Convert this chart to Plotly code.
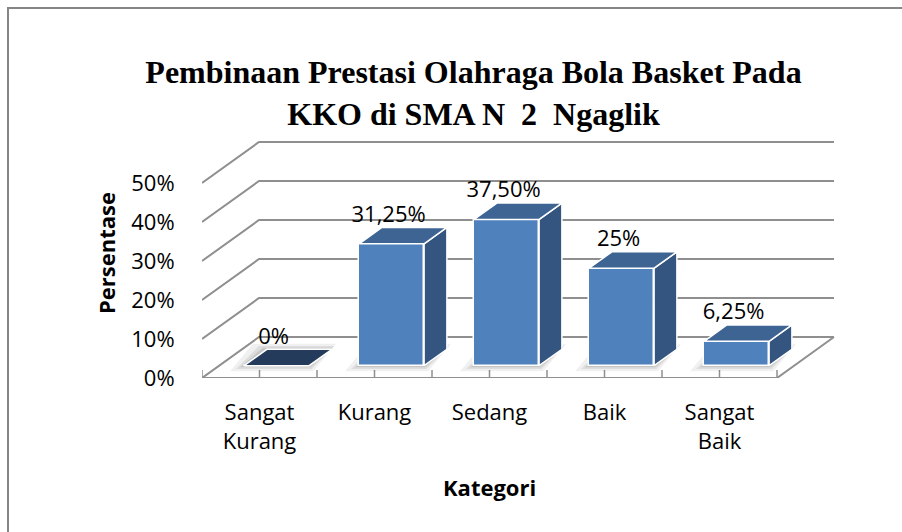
import plotly.graph_objects as go

# ---------------- data ----------------
categories = ["Sangat Kurang", "Kurang", "Sedang", "Baik", "Sangat Baik"]
tick_labels = ["Sangat<br>Kurang", "Kurang", "Sedang", "Baik", "Sangat<br>Baik"]
values = [0, 31.25, 37.5, 25, 6.25]
value_labels = ["0%", "31,25%", "37,50%", "25%", "6,25%"]
y_ticks = [0, 10, 20, 30, 40, 50]
y_tick_labels = ["0%", "10%", "20%", "30%", "40%", "50%"]

# ---------------- geometry (pixel-based oblique projection) ----------------
W, H = 902, 532
PL, PR, PT, PB = 202, 835, 128, 378
XPX = 115.0          # px per category
YPX = 3.9            # px per percent
DX = 57 / XPX        # full depth, x shift (data units)
DY = 41 / YPX        # full depth, y shift (data units)
BAR_W = 65 / XPX
F0, F1 = 0.3, 0.7    # bar depth position (fraction of floor depth)

n = len(categories)
pos = list(range(n))
x_range = [-0.5, -0.5 + (PR - PL) / XPX]
y_range = [0, (PB - PT) / YPX]

GRID = "#8f8f8f"
FRONT = "#4F81BD"
TOP = "#3E6494"
SIDE = "#34557F"
ZERO_TOP = "#243B5C"
FONT = "Open Sans, Noto Sans, sans-serif"


def px_to_paper_x(p):
    return (p - PL) / (PR - PL)


def px_to_paper_y(p):
    return (PB - p) / (PB - PT)


fig = go.Figure()

# ---- walls: gridlines (left wall diagonals + back wall) ----
xl0, xr0 = pos[0] - 0.5, pos[-1] + 0.5
for v in y_ticks:
    fig.add_trace(go.Scatter(
        x=[xl0, xl0 + DX, xr0 + DX], y=[v, v + DY, v + DY],
        mode="lines", line=dict(color=GRID, width=2),
        hoverinfo="skip", showlegend=False, zorder=0))

# ---- floor edges ----
fig.add_trace(go.Scatter(
    x=[xl0, xr0, xr0 + DX], y=[0, 0, DY], mode="lines",
    line=dict(color=GRID, width=2), hoverinfo="skip", showlegend=False, zorder=0))
tx, ty = [], []
for k in range(2 * n + 1):
    xv = xl0 + 0.5 * k
    tx += [xv, xv, None]
    ty += [0, 8 / YPX, None]
fig.add_trace(go.Scatter(
    x=tx, y=ty, mode="lines", line=dict(color=GRID, width=1.5),
    hoverinfo="skip", showlegend=False, zorder=0))

# ---- soft shadows on the floor ----
b0 = F0 * DY
ddx, ddy = (F1 - F0) * DX, (F1 - F0) * DY
for i, v in zip(pos, values):
    xc = i + F0 * DX
    xl, xr = xc - BAR_W / 2, xc + BAR_W / 2
    for grow, alpha in [(14, 0.06), (8, 0.08), (4, 0.10)]:
        gx = grow / XPX
        gy = grow / YPX * 0.4
        fig.add_trace(go.Scatter(
            x=[xl - gx, xr + gx * 0.3, xr + ddx + gx * 0.3, xl + ddx - gx, xl - gx],
            y=[b0 - gy, b0 - gy, b0 + ddy + gy, b0 + ddy + gy, b0 - gy],
            mode="lines", fill="toself", fillcolor=f"rgba(0,0,0,{alpha})",
            line=dict(width=0), hoverinfo="skip", showlegend=False, zorder=0))

# ---- bar front faces ----
fig.add_trace(go.Bar(
    x=[i + F0 * DX for i in pos], y=values, base=b0, width=BAR_W,
    marker=dict(color=FRONT, line=dict(color="white", width=1.5)),
    hovertext=categories, showlegend=False, zorder=1))

# ---- bar side & top faces ----
for i, v in zip(pos, values):
    xc = i + F0 * DX
    xl, xr = xc - BAR_W / 2, xc + BAR_W / 2
    if v > 0:
        fig.add_trace(go.Scatter(
            x=[xr, xr + ddx, xr + ddx, xr, xr],
            y=[b0, b0 + ddy, b0 + v + ddy, b0 + v, b0],
            mode="lines", fill="toself", fillcolor=SIDE,
            line=dict(color="white", width=1.5), hoverinfo="skip",
            showlegend=False, zorder=2))
    fig.add_trace(go.Scatter(
        x=[xl, xr, xr + ddx, xl + ddx, xl],
        y=[b0 + v, b0 + v, b0 + v + ddy, b0 + v + ddy, b0 + v],
        mode="lines", fill="toself", fillcolor=TOP if v > 0 else ZERO_TOP,
        line=dict(color="white", width=1.5), hoverinfo="skip",
        showlegend=False, zorder=2))

# ---- data labels ----
fig.add_trace(go.Scatter(
    x=[i + F0 * DX - 3 / XPX for i in pos],
    y=[b0 + v + 27.5 / YPX for v in values],
    mode="text", text=value_labels, textposition="middle center",
    textfont=dict(family=FONT, size=22, color="black"),
    hoverinfo="skip", showlegend=False, cliponaxis=False, zorder=3))

# ---- "Kategori" axis title centred on the category floor ----
fig.add_annotation(
    x=sum(pos) / n, y=px_to_paper_y(487), xref="x", yref="paper",
    text="<b>Kategori</b>", showarrow=False, yanchor="middle",
    font=dict(family=FONT, size=22, color="black"))

# ---- outer chart frame ----
fig.add_shape(type="line", xref="paper", yref="paper",
              x0=px_to_paper_x(8), x1=px_to_paper_x(912),
              y0=px_to_paper_y(8), y1=px_to_paper_y(8),
              line=dict(color="#868686", width=2), layer="above")
fig.add_shape(type="line", xref="paper", yref="paper",
              x0=px_to_paper_x(8), x1=px_to_paper_x(8),
              y0=px_to_paper_y(7), y1=px_to_paper_y(545),
              line=dict(color="#868686", width=2), layer="above")

fig.update_layout(
    width=W, height=H,
    margin=dict(l=PL, r=W - PR, t=PT, b=H - PB, pad=0),
    paper_bgcolor="white", plot_bgcolor="white",
    bargap=0,
    title=dict(
        text="<b>Pembinaan Prestasi Olahraga Bola Basket Pada<br>KKO di SMA N  2  Ngaglik</b>",
        x=473.5 / W, xanchor="center", xref="container",
        y=1 - 83 / H, yanchor="top", yref="container",
        font=dict(family="Liberation Serif, Times New Roman, serif", size=32, color="black")),
    xaxis=dict(
        range=x_range, tickmode="array", tickvals=pos, ticktext=tick_labels,
        showgrid=False, zeroline=False, showline=False,
        ticks="outside", ticklen=15, tickcolor="rgba(0,0,0,0)",
        tickfont=dict(family=FONT, size=22, color="black"), fixedrange=True),
    yaxis=dict(
        range=y_range, tickmode="array", tickvals=y_ticks, ticktext=y_tick_labels,
        showgrid=False, zeroline=False, showline=False,
        ticks="outside", ticklen=22, tickcolor="rgba(0,0,0,0)",
        tickfont=dict(family=FONT, size=22, color="black"),
        title=dict(text="<b>Persentase</b>", standoff=9,
                   font=dict(family=FONT, size=22, color="black")),
        fixedrange=True),
    showlegend=False,
)

fig.write_html("out.html", config={"displayModeBar": False},
               post_script="document.body.style.margin='0';")
